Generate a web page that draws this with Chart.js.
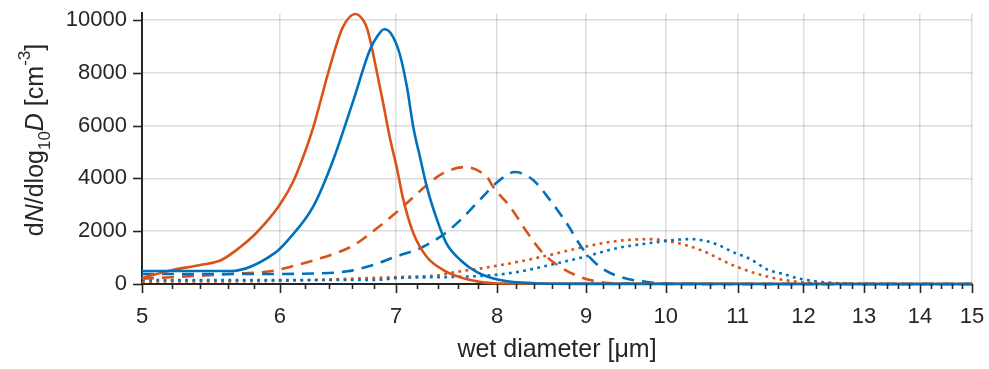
<!DOCTYPE html>
<html>
<head>
<meta charset="utf-8">
<script src="https://cdn.jsdelivr.net/npm/chart.js@4/dist/chart.umd.min.js"></script>
<style>
  html, body { margin: 0; padding: 0; background: #ffffff; }
  #wrap { width: 989px; height: 369px; position: relative; }
</style>
</head>
<body>
<div id="wrap"><canvas id="c" width="989" height="369"></canvas></div>
<script>
// ---- data ----
const orangeSolidX = [5.0, 5.2, 5.4, 5.55, 5.69, 5.82, 6.00, 6.11, 6.20, 6.27, 6.41, 6.52, 6.63, 6.70, 6.74, 6.82, 6.88, 6.94, 7.01, 7.06, 7.16, 7.29, 7.45, 7.72, 8.0, 15];
const orangeSolidY = [230, 520, 720, 900, 1380, 1950, 3000, 3900, 4950, 5900, 8200, 9700, 10230, 10000, 9620, 8100, 6860, 5570, 4320, 3300, 1930, 1020, 530, 150, 20, 0];

const blueSolidX = [5.0, 5.62, 5.96, 6.08, 6.27, 6.44, 6.61, 6.76, 6.83, 6.89, 6.95, 7.03, 7.10, 7.16, 7.23, 7.29, 7.39, 7.48, 7.62, 7.79, 8.03, 8.4, 9.0, 15];
const blueSolidY = [490, 490, 1170, 1740, 2920, 4700, 6900, 8860, 9400, 9650, 9500, 8750, 7470, 5950, 4700, 3670, 2420, 1550, 910, 450, 150, 30, 5, 0];

const orangeDashX = [5.0, 5.62, 5.95, 6.14, 6.35, 6.61, 6.85, 6.97, 7.10, 7.29, 7.45, 7.67, 7.90, 7.96, 8.14, 8.33, 8.50, 8.70, 8.93, 9.17, 9.50, 10.5, 15];
const orangeDashY = [200, 380, 500, 720, 1000, 1450, 2200, 2600, 3070, 3750, 4200, 4430, 4020, 3670, 2920, 1930, 1170, 640, 265, 75, 15, 0, 0];

const blueDashX = [5.0, 5.9, 6.3, 6.56, 6.79, 6.97, 7.25, 7.45, 7.62, 7.79, 8.00, 8.19, 8.39, 8.58, 8.77, 8.97, 9.17, 9.42, 9.76, 10.1, 11, 15];
const blueDashY = [380, 380, 400, 480, 720, 1000, 1400, 1870, 2420, 3070, 3850, 4240, 3940, 3180, 2310, 1290, 640, 265, 75, 10, 0, 0];

const orangeDotX = [5.0, 5.95, 6.79, 7.03, 7.42, 7.52, 7.85, 8.21, 8.58, 8.97, 9.38, 9.80, 10.1, 10.47, 10.94, 11.44, 11.94, 12.5, 15];
const orangeDotY = [90, 115, 230, 265, 340, 420, 600, 830, 1100, 1400, 1630, 1700, 1590, 1290, 700, 280, 75, 15, 0];

const blueDotX = [5.0, 6.79, 7.03, 7.52, 7.93, 8.21, 8.58, 8.97, 9.38, 9.80, 10.33, 10.47, 10.70, 10.94, 11.18, 11.44, 11.68, 11.94, 12.47, 13, 15];
const blueDotY = [150, 150, 230, 265, 330, 450, 720, 1020, 1360, 1550, 1700, 1670, 1500, 1200, 950, 550, 380, 200, 40, 5, 0];

const xMajorTicks = [5, 6, 7, 8, 9, 10, 11, 12, 13, 14, 15];
const xMinorStep = 0.2;
const yTicks = [0, 2000, 4000, 6000, 8000, 10000];
const xLabel = 'wet diameter [μm]';

// ---- styling ----
const BLUE = '#0072BD';
const ORANGE = '#D95319';
const AXIS = '#262626';
const GRID = 'rgba(38,38,38,0.16)';
const FONT = '"Liberation Sans", Arial, Helvetica, sans-serif';

function pts(xs, ys) { return xs.map((x, i) => ({ x: x, y: ys[i] })); }
function isMajor(v) { return Math.abs(v - Math.round(v)) < 1e-6; }

function ds(xs, ys, color, dash) {
  return {
    data: pts(xs, ys),
    borderColor: color,
    borderWidth: 2.6,
    borderDash: dash,
    borderCapStyle: 'butt',
    pointRadius: 0,
    fill: false,
    cubicInterpolationMode: 'monotone',
    clip: 4
  };
}

const DASH = [12, 8];
const DOT = [2.8, 4.4];

const tickPlugin = {
  id: 'matlabTicks',
  afterDraw(chart) {
    const ctx = chart.ctx;
    const xs = chart.scales.x, ys = chart.scales.y;
    const area = chart.chartArea;
    ctx.save();
    ctx.strokeStyle = AXIS;
    ctx.lineWidth = 1.6;
    // x ticks
    xs.ticks.forEach(t => {
      const px = Math.round(xs.getPixelForValue(t.value)) + 0.5;
      const len = isMajor(t.value) ? 9 : 5;
      ctx.beginPath();
      ctx.moveTo(px, area.bottom);
      ctx.lineTo(px, area.bottom + len);
      ctx.stroke();
    });
    // y ticks
    ys.ticks.forEach(t => {
      const py = Math.round(ys.getPixelForValue(t.value)) + 0.5;
      ctx.beginPath();
      ctx.moveTo(area.left, py);
      ctx.lineTo(area.left - 9, py);
      ctx.stroke();
    });
    // x axis label
    ctx.fillStyle = AXIS;
    ctx.font = '25px ' + FONT;
    ctx.textAlign = 'center';
    ctx.textBaseline = 'alphabetic';
    ctx.fillText(xLabel, (area.left + area.right) / 2, 357);
    // y axis label (rich text, rotated)
    const big = 25, small = 17;
    const runs = [
      { t: 'd', f: big + 'px ' + FONT, dy: 0 },
      { t: 'N', f: 'italic ' + big + 'px ' + FONT, dy: 0 },
      { t: '/dlog', f: big + 'px ' + FONT, dy: 0 },
      { t: '10', f: small + 'px ' + FONT, dy: 7 },
      { t: 'D', f: 'italic ' + big + 'px ' + FONT, dy: 0 },
      { t: ' [cm', f: big + 'px ' + FONT, dy: 0 },
      { t: '-3', f: small + 'px ' + FONT, dy: -13 },
      { t: ']', f: big + 'px ' + FONT, dy: 0 }
    ];
    let total = 0;
    runs.forEach(r => { ctx.font = r.f; r.w = ctx.measureText(r.t).width; total += r.w; });
    ctx.translate(43, 140);
    ctx.rotate(-Math.PI / 2);
    ctx.textAlign = 'left';
    let xx = -total / 2;
    runs.forEach(r => {
      ctx.font = r.f;
      ctx.fillText(r.t, xx, r.dy);
      xx += r.w;
    });
    ctx.restore();
  }
};

new Chart(document.getElementById('c'), {
  type: 'line',
  data: {
    datasets: [
      ds(blueSolidX, blueSolidY, BLUE, []),
      ds(orangeSolidX, orangeSolidY, ORANGE, []),
      ds(blueDashX, blueDashY, BLUE, DASH),
      ds(orangeDashX, orangeDashY, ORANGE, DASH),
      ds(blueDotX, blueDotY, BLUE, DOT),
      ds(orangeDotX, orangeDotY, ORANGE, DOT)
    ]
  },
  options: {
    responsive: false,
    animation: false,
    devicePixelRatio: 1,
    layout: { padding: { left: 0, right: 17, top: 13.4, bottom: 0 } },
    plugins: { legend: { display: false }, tooltip: { enabled: false } },
    scales: {
      x: {
        type: 'logarithmic',
        min: 5,
        max: 15,
        afterBuildTicks(scale) {
          const t = [];
          const first = xMajorTicks[0], last = xMajorTicks[xMajorTicks.length - 1];
          const n = Math.round((last - first) / xMinorStep);
          for (let i = 0; i <= n; i++) {
            t.push({ value: Math.round((first + i * xMinorStep) * 10) / 10 });
          }
          scale.ticks = t;
        },
        afterFit(scale) {
          scale.height = 85;
          scale.paddingLeft = 0; scale.paddingRight = 0;
          scale.paddingTop = 0; scale.paddingBottom = 0;
        },
        ticks: {
          autoSkip: false,
          maxRotation: 0,
          padding: 20,
          color: AXIS,
          font: { family: FONT, size: 22 },
          callback(v) { return isMajor(v) ? String(Math.round(v)) : ''; }
        },
        grid: {
          drawTicks: false,
          lineWidth: 1.5,
          color(ctx) { return (ctx.tick && isMajor(ctx.tick.value)) ? GRID : 'rgba(0,0,0,0)'; }
        },
        border: { display: true, color: AXIS, width: 2 }
      },
      y: {
        type: 'linear',
        min: 0,
        max: 10250,
        afterBuildTicks(scale) { scale.ticks = yTicks.map(v => ({ value: v })); },
        afterFit(scale) {
          scale.width = 142;
          scale.paddingLeft = 0; scale.paddingRight = 0;
          scale.paddingTop = 0; scale.paddingBottom = 0;
        },
        ticks: {
          padding: 15,
          color: AXIS,
          font: { family: FONT, size: 22 },
          callback(v) { return String(v); }
        },
        grid: { drawTicks: false, lineWidth: 1.5, color: GRID },
        border: { display: true, color: AXIS, width: 2 }
      }
    }
  },
  plugins: [tickPlugin]
});
</script>
</body>
</html>
